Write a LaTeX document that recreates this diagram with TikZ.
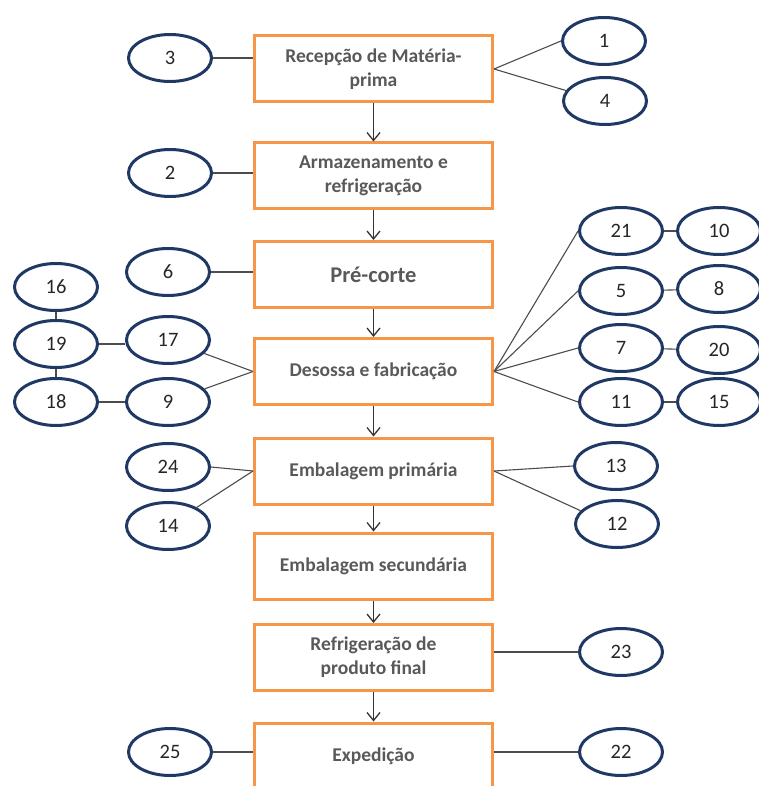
\documentclass[tikz,border=0pt]{standalone}
\usepackage{fontspec}
\setmainfont{Carlito}
\usepackage{tikz}
\usetikzlibrary{shapes,arrows.meta,positioning}
\definecolor{boxorange}{RGB}{247,150,70}
\definecolor{ovalblue}{RGB}{31,56,100}
\definecolor{textgrey}{RGB}{89,89,89}

\begin{document}
\begin{tikzpicture}[x=1pt, y=-1pt, >={Straight Barb[length=8pt,width=13pt]},
etapa/.style={rectangle, draw=boxorange, line width=3pt, minimum width=238pt,
  minimum height=66pt, align=center, text=textgrey, inner sep=2pt,
  font=\fontsize{19.5}{24}\selectfont\bfseries},
ponto/.style={ellipse, draw=ovalblue, line width=3pt, minimum width=83pt,
  minimum height=47pt, inner sep=0pt, text=black!85,
  font=\fontsize{20.5}{21}\selectfont},
liga/.style={-, draw=black!70, line width=1.1pt},
seta/.style={->, draw=black!80, line width=1.3pt}]

\useasboundingbox (0,0) rectangle (759,786);

% etapas do processo
\node [etapa] (recep) at (373.5,69) {Recepção de Matéria-\\prima};
\node [etapa, below of=recep, node distance=107pt] (armaz) {Armazenamento e\\refrigeração};
\node [etapa, below of=armaz, node distance=98.5pt, font=\fontsize{22.5}{25}\selectfont\bfseries] (precorte) {Pré-corte};
\node [etapa, below of=precorte, node distance=97pt] (desossa) {Desossa e fabricação};
\node [etapa, below of=desossa, node distance=99.5pt] (embprim) {Embalagem primária};
\node [etapa, below of=embprim, node distance=95pt] (embsec) {Embalagem secundária};
\node [etapa, below of=embsec, node distance=91.5pt] (refrig) {Refrigeração de\\produto final};
\node [etapa, below of=refrig, node distance=98.5pt] (exped) {Expedição};

\path (recep) edge [seta] (armaz);
\path (armaz) edge [seta] (precorte);
\path (precorte) edge [seta] (desossa);
\path (desossa) edge [seta] (embprim);
\path (embprim) edge [seta] (embsec);
\path (embsec) edge [seta] (refrig);
\path (refrig) edge [seta] (exped);

% pontos do lado esquerdo
\node [ponto] (c3) at (170,58) {3};
\node [ponto] (c2) at (170,173) {2};
\node [ponto] (c6) at (168,272) {6};
\node [ponto] (c16) at (56,287) {16};
\node [ponto] (c19) at (56,344) {19};
\node [ponto] (c18) at (56,402) {18};
\node [ponto] (c17) at (168,340) {17};
\node [ponto] (c9) at (168,402) {9};
\node [ponto] (c24) at (168,467) {24};
\node [ponto] (c14) at (168,526) {14};
\node [ponto] (c25) at (170,752) {25};

\path (c3.east) edge [liga] (c3.east -| recep.west);
\path (c2.east) edge [liga] (c2.east -| armaz.west);
\path (c6.east) edge [liga] (c6.east -| precorte.west);
\path (c16) edge [liga] (c19);
\path (c19) edge [liga] (c18);
\path (c19.east) edge [liga] (c19.east -| c17.west);
\path (c18) edge [liga] (c9);
\path (c17) edge [liga] (desossa.west);
\path (c9) edge [liga] (desossa.west);
\path (c24.east) edge [liga] (embprim.west);
\path (c14) edge [liga] (embprim.west);
\path (c25.east) edge [liga] (c25.east -| exped.west);

% pontos do lado direito
\node [ponto] (c1) at (604,41) {1};
\node [ponto] (c4) at (605,101) {4};
\node [ponto] (c21) at (621,231) {21};
\node [ponto] (c10) at (719,231) {10};
\node [ponto] (c5) at (621,291) {5};
\node [ponto] (c8) at (719,289) {8};
\node [ponto] (c7) at (621,348) {7};
\node [ponto] (c20) at (719,350) {20};
\node [ponto] (c11) at (621,402) {11};
\node [ponto] (c15) at (719,402) {15};
\node [ponto] (c13) at (616,466) {13};
\node [ponto] (c12) at (617,524) {12};
\node [ponto] (c23) at (621,652) {23};
\node [ponto] (c22) at (621,752) {22};

\path (recep.east) edge [liga] (c1.west);
\path (recep.east) edge [liga] (c4.165);
\path (desossa.east) edge [liga] (c21.west);
\path (desossa.east) edge [liga] (c5.west);
\path (desossa.east) edge [liga] (c7.west);
\path (desossa.east) edge [liga] (c11.west);
\path (c21) edge [liga] (c10);
\path (c5) edge [liga] (c8);
\path (c7) edge [liga] (c20);
\path (c11) edge [liga] (c15);
\path (embprim.east) edge [liga] (c13.west);
\path (embprim.east) edge [liga] (c12.160);
\path (c23.west -| refrig.east) edge [liga] (c23.west);
\path (c22.west -| exped.east) edge [liga] (c22.west);

\end{tikzpicture}
\end{document}
